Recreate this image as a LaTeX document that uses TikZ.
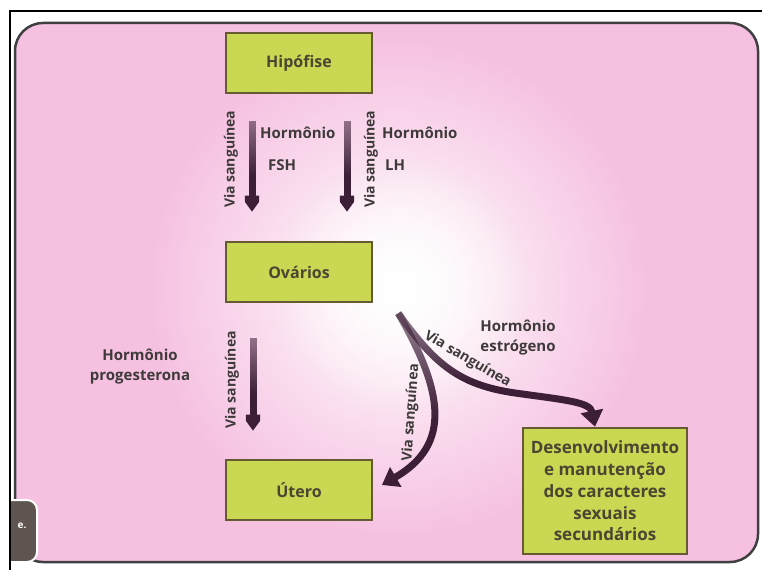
\documentclass[tikz,border=0pt]{standalone}
\usepackage{fontspec}
\setmainfont{Open Sans}
\usetikzlibrary{arrows.meta,calc,fadings}

\definecolor{fundo}{HTML}{F6C1E1}
\definecolor{caixa}{HTML}{C9D753}
\definecolor{bordacaixa}{HTML}{665A32}
\definecolor{seta}{HTML}{3C1E37}
\definecolor{texto}{HTML}{3F3A3A}
\definecolor{textocaixa}{HTML}{4A4632}
\definecolor{aba}{HTML}{5F5550}

\tikzfading[name=brilho, inner color=transparent!0, outer color=transparent!100]
% seta: opaca embaixo, some em cima
\pgfdeclareverticalshading{rampa}{100bp}{color(0bp)=(pgftransparent!0); color(45bp)=(pgftransparent!0); color(100bp)=(pgftransparent!88)}
\pgfdeclarefading{descer}{\pgfuseshading{rampa}}

\begin{document}
\begin{tikzpicture}[x=1pt, y=1pt,
    orgao/.style={draw=bordacaixa, line width=2.5pt, fill=caixa, minimum width=146pt,
      minimum height=60pt, text=textocaixa, font=\fontsize{16}{22}\selectfont\bfseries},
    rotulo/.style={text=texto, font=\fontsize{15}{20}\selectfont\bfseries, inner sep=1pt},
    via/.style={text=texto, font=\fontsize{14}{16}\selectfont\bfseries, inner sep=1pt},
    sangue/.style={draw=seta, line width=7pt, -{Triangle[width=22pt,length=16pt]},
      path fading=descer}]
  \useasboundingbox (0,0) rectangle (762,570);
  \fill[white] (0,0) rectangle (762,570);

  % fundo rosa
  \begin{scope}
    \clip[rounded corners=28pt] (15,8) rectangle (758,547);
    \fill[fundo] (15,8) rectangle (758,547);
    \fill[white, path fading=brilho] (398,282) circle (250);
    \fill[white, path fading=brilho] (402,285) circle (130);
  \end{scope}
  \draw[black!75, line width=2.5pt, rounded corners=28pt] (15,8) rectangle (758,547);

  % aba do canto
  \begin{scope}
    \clip (10,0) rectangle (60,100);
    \draw[fill=aba, draw=white, line width=2pt, rounded corners=10pt] (-20,8) rectangle (37,70);
  \end{scope}
  \node[white, font=\fontsize{10}{12}\selectfont\bfseries] (letra) at (22,44) {e.};
  \draw[black, line width=1.2pt] (10,0) -- (10,559) -- (762,559);

  \node[orgao] (hipofise) at (299,507) {Hipófise};
  \node[orgao] (ovarios) at (299,298) {Ovários};
  \node[orgao] (utero) at (299,80) {Útero};
  \node[orgao, minimum width=164pt, minimum height=126pt, align=center, inner sep=2pt,
    font=\fontsize{17}{21.8}\selectfont\bfseries] (desenv) at (605,79)
    {Desenvolvimento\\e manutenção\\dos caracteres\\sexuais\\secundários};

  % hipofise -> ovarios
  \draw[sangue] ($(hipofise.south)+(-47,-27)$) -- ($(ovarios.north)+(-47,29)$);
  \path ($(hipofise.south)+(-47,-27)$) -- ($(ovarios.north)+(-47,29)$)
    node[via, pos=0.42, rotate=90, anchor=south, outer sep=13pt] {Via sanguínea};
  \draw[sangue] ($(hipofise.south)+(48,-27)$) -- ($(ovarios.north)+(48,29)$);
  \path ($(hipofise.south)+(48,-27)$) -- ($(ovarios.north)+(48,29)$)
    node[via, pos=0.42, rotate=90, anchor=north, outer sep=16pt] {Via sanguínea};
  \node[rotulo, anchor=west] (hfsh) at (259,437) {Hormônio};
  \node[rotulo, anchor=west] (fsh) at (267,405) {FSH};
  \node[rotulo, anchor=west] (hlh) at (381,437) {Hormônio};
  \node[rotulo, anchor=west] (lh) at (384,405) {LH};

  % ovarios -> utero
  \draw[sangue] ($(ovarios.south)+(-46,-35)$) -- ($(utero.north)+(-46,28)$);
  \path ($(ovarios.south)+(-46,-35)$) -- ($(utero.north)+(-46,28)$)
    node[via, pos=0.45, rotate=90, anchor=south, outer sep=13pt] {Via sanguínea};
  \node[rotulo, align=center] (hprog) at (140,203) {Hormônio\\progesterona};

  % estrogeno
  \coordinate (saida) at ($(ovarios.south east)+(25,-10)$);
  \draw[sangue, shorten >=10pt] (saida) to[out=-60, in=30, looseness=1.3] (utero.east);
  \path (saida) to[out=-60, in=30, looseness=1.3]
    node[via, pos=0.5, sloped, above, outer sep=13pt] {Via sanguínea} (utero.east);
  \draw[sangue] (saida) .. controls (435,205) and (460,185) .. (515,177)
    .. controls (565,170) and (590,168) .. ($(desenv.north)+(-10,0)$);
  \path (saida) .. controls (435,205) and (460,185) .. (515,177)
    node[via, pos=0.58, sloped, above, outer sep=10pt] {Via sanguínea};
  \node[rotulo, align=center] (hestr) at (518,232) {Hormônio\\estrógeno};
\end{tikzpicture}
\end{document}
